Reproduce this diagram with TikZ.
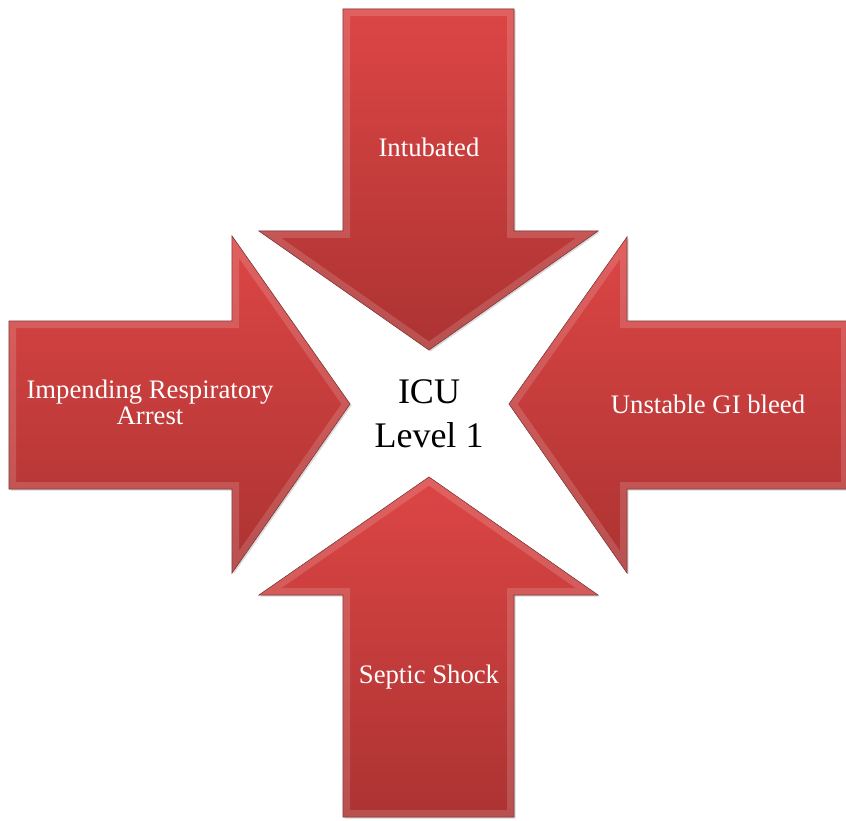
\documentclass[tikz,border=0pt]{standalone}
\usepackage{fontspec}
\setmainfont{Liberation Serif}
\usetikzlibrary{shadows}
\definecolor{rougehaut}{RGB}{220,70,69}
\definecolor{rougebas}{RGB}{172,51,50}
\definecolor{rougebord}{RGB}{115,32,32}
\newcommand{\flecheforme}[1]{\path[fleche] #1; \begin{scope}\clip #1; \draw[biseau] #1; \end{scope}}
\begin{document}
\begin{tikzpicture}[x=1pt, y=-1pt]
				\tikzset{fleche/.style={top color=rougehaut, bottom color=rougebas, draw=rougebord, line width=0.6pt, drop shadow={opacity=0.3, shadow xshift=1.5pt, shadow yshift=-1.5pt}},
					biseau/.style={white, opacity=0.15, line width=14pt},
					etiquette/.style={text=white, font=\fontsize{26.7}{26}\selectfont, align=center, anchor=base}};
				\useasboundingbox (0,0) rectangle (846,821);

				\flecheforme{(343,9) -- (514,9) -- (514,231) -- (598,231) -- (429,350) -- (259,231) -- (343,231) -- cycle}
				\flecheforme{(9,321) -- (232,321) -- (232,236) -- (350,404) -- (232,573) -- (232,489) -- (9,489) -- cycle}
				\flecheforme{(848,321) -- (627,321) -- (627,237) -- (509,404) -- (627,573) -- (627,489) -- (848,489) -- cycle}
				\flecheforme{(343,817) -- (514,817) -- (514,595) -- (598,595) -- (429,477) -- (259,595) -- (343,595) -- cycle}

				\node[etiquette] (intube) at (429,157) {Intubated};
				\node[etiquette] (respi) at (150,424) {Impending Respiratory\\Arrest};
				\node[etiquette] (gi) at (708,413) {Unstable GI bleed};
				\node[etiquette] (septique) at (429,683) {Septic Shock};
				\node[anchor=base, align=center, font=\fontsize{36}{44}\selectfont] (icu) at (429,447) {ICU\\Level 1};
			\end{tikzpicture}
\end{document}
